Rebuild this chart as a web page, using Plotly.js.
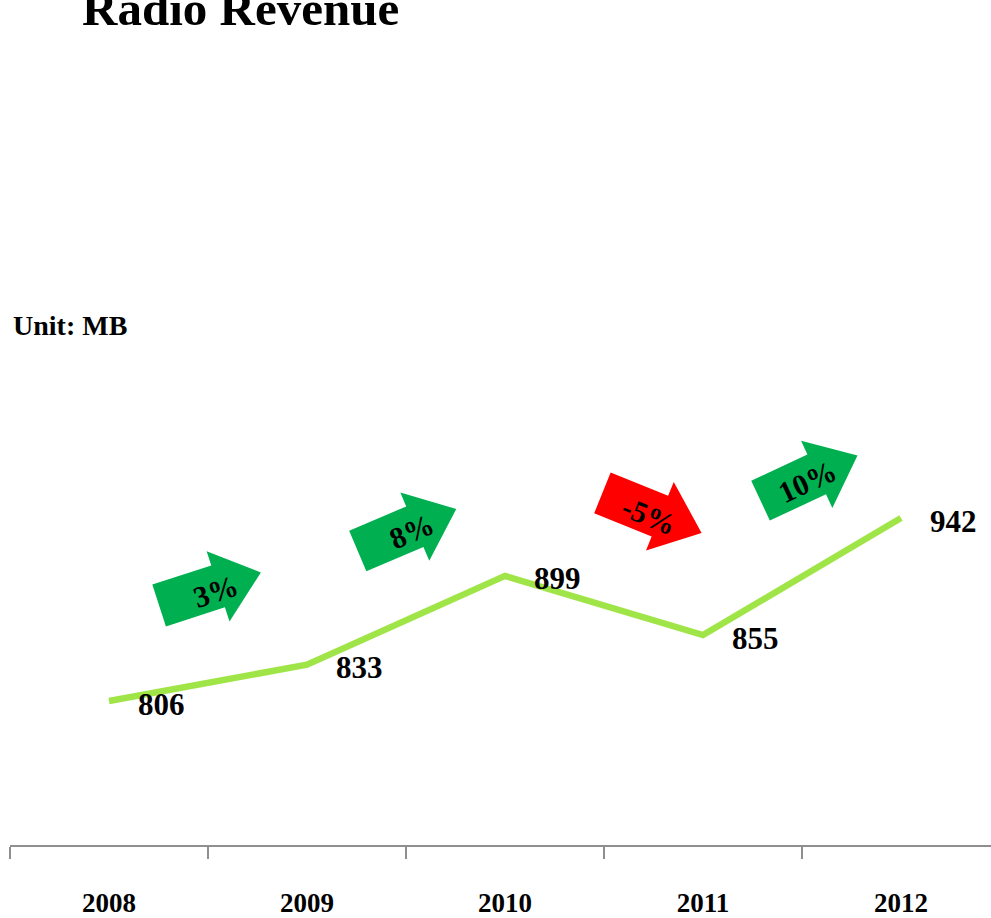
<!DOCTYPE html>
<html>
<head>
<meta charset="utf-8">
<script src="https://cdn.plot.ly/plotly-3.0.1.min.js"></script>
<style>html,body{margin:0;padding:0;background:#fff;}#chart{width:991px;height:918px;}</style>
</head>
<body>
<div id="chart"></div>
<script>
// ---- data ----
var years = ['2008', '2009', '2010', '2011', '2012'];
var revenue = [806, 833, 899, 855, 942];
var growthLabels = ['3%', '8%', '-5%', '10%'];
var growthSign = [1, 1, -1, 1];

// ---- layout geometry ----
var W = 991, H = 918;
var M = {l: 10, r: 0, t: 45, b: 73};
var plotW = W - M.l - M.r, plotH = H - M.t - M.b;
var catPx = 198;
var pxPerUnit = 183 / 136;
var yMin = 699.0;
var yMax = yMin + plotH / pxPerUnit;
var FONT = '"Liberation Serif", "Times New Roman", serif';

// arrow placement (screen pixels centre, rotation in degrees, clockwise positive)
var arrowCentres = [[210, 589], [407, 530], [652, 513], [809, 478]];
var arrowAngles = [-18, -23, 22, -25];
var arrowText = [[215, 591], [411, 531], [649, 515], [807, 481]];

function arrowPath(angleDeg) {
  var L = 107, sw = 22, hw = 37, hl = 45;
  var hx = L / 2 - hl;
  var pts = [[-L/2, -sw], [hx, -sw], [hx, -hw], [L/2, 0], [hx, hw], [hx, sw], [-L/2, sw]];
  var a = angleDeg * Math.PI / 180, c = Math.cos(a), s = Math.sin(a);
  return pts.map(function (p, i) {
    var x = p[0] * c - p[1] * s;
    var y = p[0] * s + p[1] * c;
    return (i === 0 ? 'M' : 'L') + x.toFixed(2) + ',' + (-y).toFixed(2);
  }).join(' ') + ' Z';
}
function px2paperX(px) { return (px - M.l) / plotW; }
function px2paperY(py) { return 1 - (py - M.t) / plotH; }

var shapes = growthLabels.map(function (g, i) {
  return {
    type: 'path', xref: 'paper', yref: 'paper',
    xsizemode: 'pixel', ysizemode: 'pixel',
    xanchor: px2paperX(arrowCentres[i][0]), yanchor: px2paperY(arrowCentres[i][1]),
    path: arrowPath(arrowAngles[i]),
    fillcolor: growthSign[i] > 0 ? '#00b050' : '#ff0000',
    line: {width: 0}, layer: 'above'
  };
});

var annotations = [];
// value labels (x given as category index)
years.forEach(function (yr, i) {
  annotations.push({
    x: i, y: revenue[i], xref: 'x', yref: 'y',
    text: String(revenue[i]), showarrow: false,
    xanchor: 'left', yanchor: 'middle', xshift: 27, yshift: -3,
    font: {family: FONT, size: 31, weight: 'bold', color: '#000'}
  });
});
// growth labels in arrows
growthLabels.forEach(function (g, i) {
  annotations.push({
    xref: 'paper', yref: 'paper',
    x: px2paperX(arrowText[i][0]), y: px2paperY(arrowText[i][1]),
    text: g, showarrow: false, textangle: arrowAngles[i],
    xanchor: 'center', yanchor: 'middle',
    font: {family: FONT, size: 30, weight: 'bold', color: '#000'}
  });
});
// title
annotations.push({
  xref: 'paper', yref: 'paper', x: px2paperX(80), y: px2paperY(8),
  xanchor: 'left', yanchor: 'middle', showarrow: false,
  text: 'Radio Revenue',
  font: {family: FONT, size: 49, weight: 'bold', color: '#000'}
});
// unit
annotations.push({
  xref: 'paper', yref: 'paper', x: px2paperX(11), y: px2paperY(325),
  xanchor: 'left', yanchor: 'middle', showarrow: false,
  text: 'Unit: MB',
  font: {family: FONT, size: 28, weight: 'bold', color: '#000'}
});

var trace = {
  type: 'scatter', mode: 'lines',
  x: years, y: revenue,
  line: {color: '#a0e548', width: 6.5},
  hoverinfo: 'skip'
};

var layout = {
  width: W, height: H,
  margin: M,
  paper_bgcolor: '#fff', plot_bgcolor: '#fff',
  showlegend: false,
  xaxis: {
    type: 'category', range: [-0.5, -0.5 + plotW / catPx],
    tickson: 'boundaries', ticks: 'outside', ticklen: 12, tickwidth: 2, tickcolor: '#8f8f8f',
    showline: true, linecolor: '#8f8f8f', linewidth: 2,
    showgrid: false, zeroline: false,
    ticklabelstandoff: 33,
    tickfont: {family: FONT, size: 27, weight: 'bold', color: '#000'}
  },
  yaxis: {
    range: [yMin, yMax], visible: false, showgrid: false, zeroline: false
  },
  shapes: shapes,
  annotations: annotations
};

Plotly.newPlot('chart', [trace], layout, {displayModeBar: false, staticPlot: true});
</script>
</body>
</html>
